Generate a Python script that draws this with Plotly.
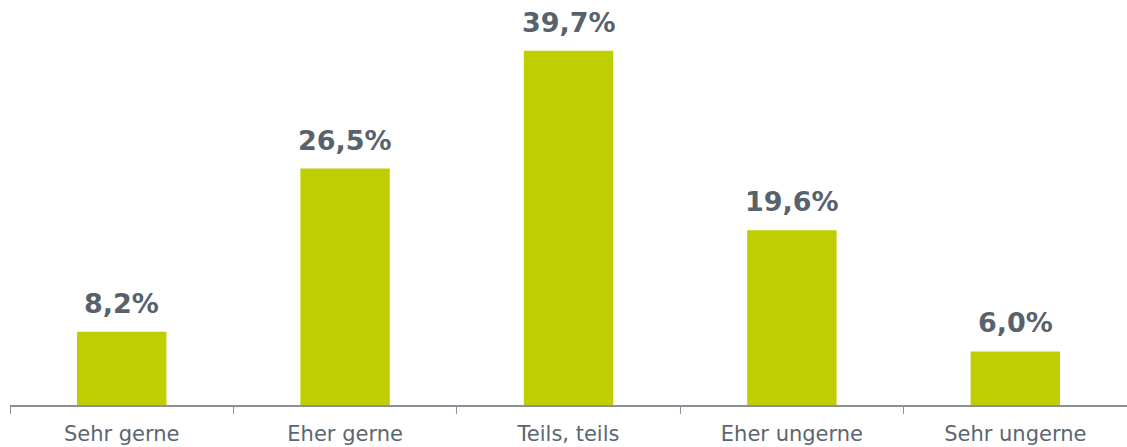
import plotly.graph_objects as go

categories = ["Sehr gerne", "Eher gerne", "Teils, teils", "Eher ungerne", "Sehr ungerne"]
values = [8.2, 26.5, 39.7, 19.6, 6.0]
labels = ["8,2%", "26,5%", "39,7%", "19,6%", "6,0%"]

bar_color = "#bfce00"
text_color = "#58626d"

fig = go.Figure()
fig.add_trace(go.Bar(
    x=categories, y=values, marker_color=bar_color, marker_line_width=0,
    width=0.4, hoverinfo="skip",
))
for c, v, t in zip(categories, values, labels):
    fig.add_annotation(
        x=c, y=v, text="<b>%s</b>" % t, showarrow=False,
        yanchor="bottom", yshift=11,
        font=dict(family="DejaVu Sans", size=27, color=text_color),
    )

fig.update_layout(
    width=1127, height=447,
    margin=dict(l=10, r=0, t=0, b=42),
    plot_bgcolor="white", paper_bgcolor="white",
    showlegend=False,
    xaxis=dict(
        type="category", tickson="boundaries", ticks="outside", ticklen=7,
        tickcolor="#8a9099", tickwidth=1,
        showline=True, linecolor="#8a9099", linewidth=1.5,
        showgrid=False, ticklabelstandoff=9,
        tickfont=dict(family="DejaVu Sans", size=21, color="#5b6670"),
        range=[-0.5, 4.5],
    ),
    yaxis=dict(range=[0, 45.4], visible=False, showgrid=False, zeroline=False),
)

fig.write_html("out.html")
